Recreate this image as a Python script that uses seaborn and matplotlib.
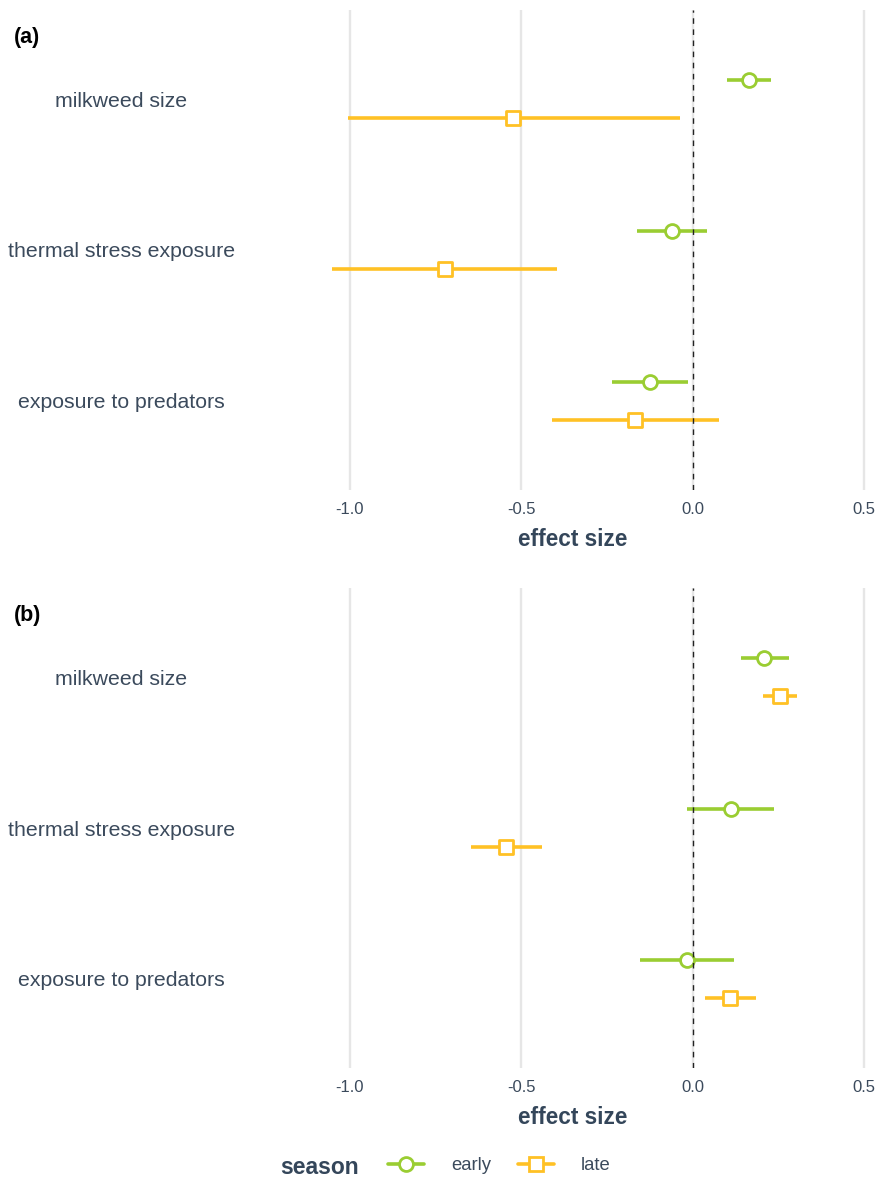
import numpy as np
import pandas as pd
import seaborn as sns
import matplotlib
matplotlib.use("Agg")
import matplotlib.pyplot as plt
from matplotlib.lines import Line2D

sns.set_theme(style="white")
plt.rcParams['font.family'] = ['Liberation Sans', 'DejaVu Sans']

# ---- data ----
predictors = ["milkweed size", "thermal stress exposure", "exposure to predators"]
seasons = ["early", "late"]

# panel (a)
a_early_est = [0.166, -0.060, -0.124]
a_early_lo = [0.100, -0.161, -0.236]
a_early_hi = [0.230, 0.043, -0.014]
a_late_est = [-0.523, -0.722, -0.167]
a_late_lo = [-1.004, -1.051, -0.411]
a_late_hi = [-0.036, -0.396, 0.077]

# panel (b)
b_early_est = [0.209, 0.111, -0.016]
b_early_lo = [0.140, -0.017, -0.153]
b_early_hi = [0.280, 0.239, 0.121]
b_late_est = [0.254, -0.543, 0.109]
b_late_lo = [0.206, -0.647, 0.036]
b_late_hi = [0.306, -0.440, 0.186]

panel_labels = ["(a)", "(b)"]
xticks = [-1.0, -0.5, 0.0, 0.5]
xtick_labels = ["-1.0", "-0.5", "0.0", "0.5"]

colors = {"early": "#9ACD32", "late": "#FFC125"}
markers = {"early": "o", "late": "s"}
dodge = {"early": -0.126, "late": 0.126}
TXT = "#3b4a5c"

def make_df(ee, el, eh, le, ll, lh):
    rows = []
    for i, p in enumerate(predictors):
        rows.append(dict(predictor=p, season="early", est=ee[i], lo=el[i], hi=eh[i]))
        rows.append(dict(predictor=p, season="late", est=le[i], lo=ll[i], hi=lh[i]))
    df = pd.DataFrame(rows)
    df["ypos"] = df["predictor"].map({p: i for i, p in enumerate(predictors)}) + df["season"].map(dodge)
    return df

dfs = [make_df(a_early_est, a_early_lo, a_early_hi, a_late_est, a_late_lo, a_late_hi),
       make_df(b_early_est, b_early_lo, b_early_hi, b_late_est, b_late_lo, b_late_hi)]

W, H = 880, 1177
fig = plt.figure(figsize=(W / 100, H / 100), dpi=100)

ax_left_px, ax_right_px = 315.2, 874.3
panel_tops = [10, 588]
panel_h = 480

for k, (df, lab, top) in enumerate(zip(dfs, panel_labels, panel_tops)):
    ax = fig.add_axes([ax_left_px / W, 1 - (top + panel_h) / H,
                       (ax_right_px - ax_left_px) / W, panel_h / H])
    ax.set_xlim(-1.1, 0.53)
    ax.set_ylim(2.59, -0.59)
    for s in ax.spines.values():
        s.set_visible(False)
    for xt in xticks:
        ax.axvline(xt, color="#e6e6e6", lw=1.7, zorder=1)
    ax.axvline(0, color="#222222", lw=1.0, ls=(0, (4, 4)), zorder=5)
    for season in seasons:
        sub = df[df["season"] == season]
        ax.hlines(sub["ypos"], sub["lo"], sub["hi"], color=colors[season], lw=2.6, zorder=3)
        sns.scatterplot(data=sub, x="est", y="ypos", marker=markers[season], s=100,
                        facecolor="white", edgecolor=colors[season], linewidth=2.0,
                        zorder=4, ax=ax, legend=False)
    ax.set_xticks(xticks)
    ax.set_xticklabels(xtick_labels, color=TXT, fontsize=12)
    ax.set_yticks(range(len(predictors)))
    ax.set_yticklabels(predictors, color=TXT, fontsize=15.3, ha="center")
    ax.tick_params(axis="y", length=0, pad=(ax_left_px - 121.5) * 0.72)
    ax.tick_params(axis="x", length=0, pad=9)
    ax.set_xlabel("")
    ax.set_ylabel("")
    fig.text(572.5 / W, 1 - (top + 530) / H, "effect size", ha="center", va="center",
             fontsize=16.3, fontweight="bold", color="#34465a")
    fig.text(14 / W, 1 - (top + 28) / H, lab, ha="left", va="center",
             fontsize=15.5, fontweight="bold", color="black")

# legend
fig.text(280 / W, 1 - 1167 / H, "season", ha="left", va="center",
         fontsize=16.5, fontweight="bold", color="#34465a")
handles = [Line2D([], [], color=colors[s], lw=2.6, marker=markers[s], ms=10,
                  mfc="white", mec=colors[s], mew=2.0) for s in seasons]
fig.legend(handles, seasons, loc="center left", bbox_to_anchor=(388 / W, 1 - 1166 / H),
           ncol=2, frameon=False, fontsize=13.3, labelcolor=TXT, handlelength=1.95,
           handletextpad=1.45, columnspacing=1.45, borderpad=0, borderaxespad=0)

fig.savefig("out.png", dpi=100)
